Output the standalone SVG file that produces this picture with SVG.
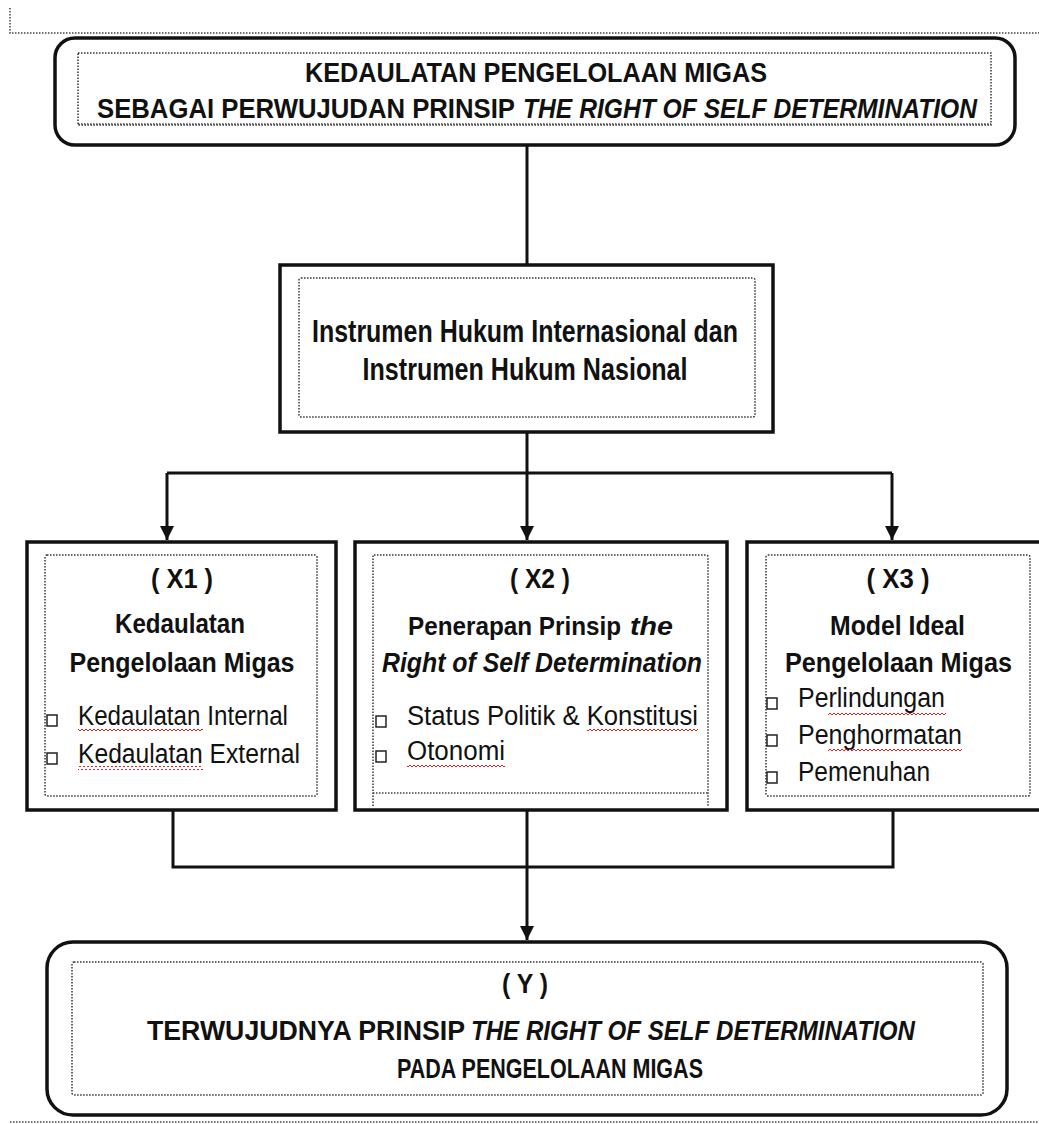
<svg xmlns="http://www.w3.org/2000/svg" width="1039" height="1124" viewBox="0 0 1039 1124">
<defs>
<style>
.box{fill:#fff;stroke:#111;stroke-width:3.5}
.inner{fill:none;stroke:#333;stroke-width:1.5;stroke-dasharray:1.5 1.5}
.dot{fill:none;stroke:#444;stroke-width:1.5;stroke-dasharray:1.5 1.5}
.conn{fill:none;stroke:#111;stroke-width:3}
.t{font-family:"Liberation Sans Narrow","Liberation Sans",Arial,sans-serif;font-size:27px;fill:#111}
.b{font-weight:bold}
.big{font-size:31px}
.sm{font-size:25px}
.i{font-style:italic}
.m{text-anchor:middle}
.bul{fill:none;stroke:#222;stroke-width:1.5}
.wavy{fill:url(#wv)}
</style>
<pattern id="wv" x="0" y="0" width="4" height="4" patternUnits="userSpaceOnUse">
<path d="M0,3 L2,1 L4,3" fill="none" stroke="#e02020" stroke-width="1"/>
</pattern>
<marker id="arr" viewBox="0 0 14 14" refX="14" refY="7" markerWidth="14" markerHeight="14" orient="auto" markerUnits="userSpaceOnUse">
<path d="M0,0 L14,7 L0,14 z" fill="#111"/>
</marker>
</defs>
<rect width="1039" height="1124" fill="#fff"/>

<g id="page-marks">
<path class="dot" d="M10,8 V33 H1039"/>
<path class="dot" d="M10,1122 H1039"/>
</g>

<g id="connectors">
<path class="conn" d="M527,145 V265"/>
<path class="conn" d="M527,432 V473"/>
<path class="conn" d="M167,473 H892"/>
<path class="conn" d="M167,473 V540" marker-end="url(#arr)"/>
<path class="conn" d="M527,473 V540" marker-end="url(#arr)"/>
<path class="conn" d="M892,473 V540" marker-end="url(#arr)"/>
<path class="conn" d="M173,810 V867 H893 V810"/>
<path class="conn" d="M527,810 V940" marker-end="url(#arr)"/>
</g>

<g id="node-title">
<rect class="box" x="55" y="38" width="960" height="107" rx="20"/>
<rect class="inner" x="78" y="53" width="913" height="72"/>
<path class="dot" d="M78,124 H991"/>
<text class="t b m" x="536" y="82" textLength="462" lengthAdjust="spacingAndGlyphs">KEDAULATAN PENGELOLAAN MIGAS</text>
<text class="t b" x="97" y="118" textLength="418" lengthAdjust="spacingAndGlyphs">SEBAGAI PERWUJUDAN PRINSIP</text>
<text class="t b i" x="523" y="118" textLength="454" lengthAdjust="spacingAndGlyphs">THE RIGHT OF SELF DETERMINATION</text>
</g>

<g id="node-instrumen">
<rect class="box" x="280" y="265" width="493" height="167" stroke-width="4"/>
<rect class="inner" x="299" y="278" width="456" height="139" rx="2"/>
<text class="t b big m" x="525" y="342" textLength="426" lengthAdjust="spacingAndGlyphs">Instrumen Hukum Internasional dan</text>
<text class="t b big m" x="525" y="380" textLength="325" lengthAdjust="spacingAndGlyphs">Instrumen Hukum Nasional</text>
</g>

<g id="node-x1">
<rect class="box" x="27" y="542" width="309" height="268"/>
<rect class="inner" x="45" y="555" width="272" height="241" rx="2"/>
<text class="t b m" x="182" y="588" textLength="62" lengthAdjust="spacingAndGlyphs">( X1 )</text>
<text class="t b m" x="180" y="633" textLength="130" lengthAdjust="spacingAndGlyphs">Kedaulatan</text>
<text class="t b m" x="182" y="672" textLength="225" lengthAdjust="spacingAndGlyphs">Pengelolaan Migas</text>
<rect class="bul" x="47" y="715" width="10" height="11"/>
<rect class="bul" x="47" y="753" width="10" height="11"/>
<text class="t" x="78" y="725" textLength="210" lengthAdjust="spacingAndGlyphs">Kedaulatan Internal</text>
<text class="t" x="78" y="763" textLength="222" lengthAdjust="spacingAndGlyphs">Kedaulatan External</text>
<rect class="wavy" x="78" y="728" width="125" height="4"/>
<rect class="wavy" x="78" y="766" width="125" height="4"/>
</g>

<g id="node-x2">
<rect class="box" x="355" y="542" width="372" height="268"/>
<path class="inner" d="M373,806 V555 H706 Q708,555 708,557 V806"/>
<path class="dot" d="M373,793 H708" stroke-width="2.5"/>
<text class="t b m" x="540" y="588" textLength="60" lengthAdjust="spacingAndGlyphs">( X2 )</text>
<text class="t b sm" x="408" y="635" textLength="213" lengthAdjust="spacingAndGlyphs">Penerapan Prinsip</text>
<text class="t b i sm" x="630" y="635" textLength="43" lengthAdjust="spacingAndGlyphs">the</text>
<text class="t b i" x="382" y="672" textLength="320" lengthAdjust="spacingAndGlyphs">Right of Self Determination</text>
<rect class="bul" x="376" y="716" width="10" height="11"/>
<rect class="bul" x="376" y="751" width="10" height="11"/>
<text class="t" x="407" y="725" textLength="291" lengthAdjust="spacingAndGlyphs">Status Politik &amp; Konstitusi</text>
<text class="t" x="407" y="760" textLength="98" lengthAdjust="spacingAndGlyphs">Otonomi</text>
<rect class="wavy" x="587" y="729" width="111" height="4"/>
<rect class="wavy" x="407" y="765" width="98" height="4"/>
</g>

<g id="node-x3">
<rect class="box" x="747" y="542" width="300" height="268"/>
<rect class="inner" x="766" y="555" width="264" height="241" rx="2"/>
<text class="t b m" x="898" y="588" textLength="63" lengthAdjust="spacingAndGlyphs">( X3 )</text>
<text class="t b" x="830" y="635" textLength="135" lengthAdjust="spacingAndGlyphs">Model Ideal</text>
<text class="t b" x="785" y="672" textLength="227" lengthAdjust="spacingAndGlyphs">Pengelolaan Migas</text>
<rect class="bul" x="767" y="698" width="10" height="11"/>
<rect class="bul" x="767" y="735" width="10" height="11"/>
<rect class="bul" x="767" y="772" width="10" height="11"/>
<text class="t" x="798" y="707" textLength="147" lengthAdjust="spacingAndGlyphs">Perlindungan</text>
<text class="t" x="798" y="744" textLength="164" lengthAdjust="spacingAndGlyphs">Penghormatan</text>
<text class="t" x="798" y="781" textLength="132" lengthAdjust="spacingAndGlyphs">Pemenuhan</text>
<rect class="wavy" x="828" y="711" width="118" height="4"/>
<rect class="wavy" x="828" y="748" width="134" height="4"/>
</g>

<g id="node-y">
<rect class="box" x="47" y="942" width="960" height="173" rx="26"/>
<rect class="inner" x="72" y="962" width="911" height="133" rx="2"/>
<text class="t b m" x="525" y="993" textLength="46" lengthAdjust="spacingAndGlyphs">( Y )</text>
<text class="t b" x="147" y="1040" textLength="318" lengthAdjust="spacingAndGlyphs">TERWUJUDNYA PRINSIP</text>
<text class="t b i" x="471" y="1040" textLength="444" lengthAdjust="spacingAndGlyphs">THE RIGHT OF SELF DETERMINATION</text>
<text class="t b" x="397" y="1078" textLength="306" lengthAdjust="spacingAndGlyphs">PADA PENGELOLAAN MIGAS</text>
</g>
</svg>
